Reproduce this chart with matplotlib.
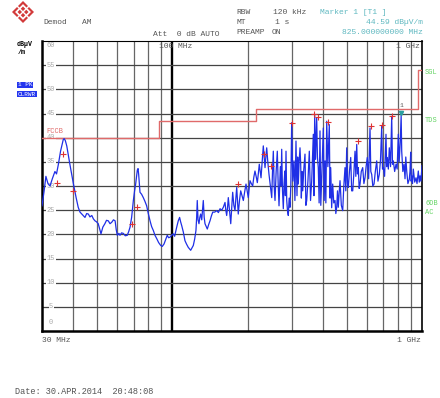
import matplotlib
matplotlib.use('Agg')
import matplotlib.pyplot as plt
from matplotlib.patches import Polygon
from matplotlib.ticker import NullLocator

W, H = 440, 398
MONO = 'Liberation Mono'

# measured trace, MHz / dBuV/m
trace_freq = [
    30.0, 30.6, 31.1, 31.7, 32.3, 33.0, 33.8, 34.3, 34.9, 35.6, 36.5, 36.8, 37.2, 37.7,
    38.2, 38.8, 40.0, 41.1, 41.9, 42.6, 43.3, 44.0, 44.6, 45.3, 46.0, 46.7, 47.5, 48.2,
    48.9, 49.6, 50.4, 51.0, 51.7, 52.6, 53.6, 54.4, 55.3, 56.2, 57.1, 58.0, 58.9, 59.5,
    60.1, 61.0, 61.6, 62.5, 63.5, 64.7, 65.9, 66.8, 67.6, 68.6, 69.7, 70.5, 71.2, 72.3,
    72.8, 73.2, 74.1, 75.2, 76.4, 77.6, 78.8, 80.0, 81.3, 82.5, 83.8, 85.1, 86.5, 88.0,
    89.7, 91.0, 92.5, 94.0, 95.3, 96.5, 97.7, 99.3, 100.8, 102.0, 103.2, 104.0, 105.5,
    106.8, 107.8, 108.9, 110.5, 112.2, 113.8, 115.7, 117.0, 118.3, 119.7, 121.2, 122.7,
    124.2, 125.0, 125.7, 126.6, 127.7, 128.7, 129.7, 131.0, 132.1, 132.9, 134.0, 135.0,
    136.5, 137.9, 139.6, 141.4, 143.2, 145.0, 147.7, 150.4, 152.8, 155.1, 157.5, 159.9,
    162.4, 163.6, 164.9, 166.2, 167.4, 169.2, 171.2, 172.7, 174.3, 176.2, 178.1, 179.5,
    180.9, 182.2, 183.5, 185.6, 187.7, 190.0, 192.3, 194.7, 197.1, 199.2, 201.3, 202.9,
    204.5, 207.0, 209.6, 211.8, 214.1, 216.4, 218.8, 220.8, 222.8, 224.6, 226.4, 228.8,
    231.2, 233.0, 234.9, 236.7, 238.6, 241.0, 243.7, 246.8, 249.9, 251.7, 253.6, 255.6,
    257.6, 260.3, 263.1, 265.2, 267.3, 269.0, 270.6, 272.3, 274.0, 276.0, 278.1, 280.0,
    282.0, 283.5, 285.1, 287.0, 289.0, 291.2, 293.5, 295.8, 298.0, 300.4, 303.5, 306.9,
    309.5, 312.6, 315.5, 317.5, 319.3, 321.8, 324.4, 326.5, 328.5, 330.5, 332.6, 336.0,
    339.7, 342.5, 345.1, 349.0, 353.5, 357.5, 361.4, 364.0, 366.8, 369.0, 371.5, 374.5,
    378.4, 381.0, 384.0, 387.0, 390.1, 393.0, 396.3, 399.0, 402.3, 405.5, 408.6, 411.8,
    415.1, 419.5, 425.1, 428.0, 430.6, 434.5, 438.6, 443.0, 448.1, 451.5, 455.2, 458.5,
    461.9, 465.5, 469.3, 475.0, 481.1, 486.0, 491.4, 495.0, 499.2, 503.0, 506.7, 512.0,
    518.0, 522.5, 527.7, 533.0, 539.0, 543.0, 547.5, 551.5, 555.6, 560.0, 564.5, 571.0,
    578.6, 585.0, 591.1, 597.0, 603.7, 611.0, 618.9, 623.5, 628.7, 635.0, 642.3, 650.0,
    658.4, 666.0, 674.4, 682.0, 689.5, 694.5, 699.7, 708.0, 717.3, 721.5, 725.9, 733.0,
    739.6, 748.0, 756.1, 761.5, 767.4, 777.0, 786.7, 795.0, 803.5, 810.0, 818.0, 825.0,
    829.3, 838.0, 847.1, 855.0, 861.0, 868.4, 878.0, 889.4, 895.0, 901.0, 905.0, 909.3,
    916.0, 923.0, 935.0, 946.2, 955.0, 966.5, 975.0, 982.0, 990.0, 1000.0,
]
trace_level = [
    25.9, 29.0, 32.0, 30.5, 30.0, 31.5, 33.0, 32.5, 34.5, 37.2, 39.6, 39.8, 39.4, 38.3,
    36.5, 34.5, 30.7, 27.6, 25.6, 24.6, 24.2, 23.8, 23.5, 24.3, 24.2, 23.6, 23.9, 23.2,
    22.8, 22.6, 22.2, 21.2, 20.1, 21.5, 22.2, 22.9, 22.8, 22.2, 22.5, 23.0, 22.8, 21.0,
    19.8, 20.2, 19.8, 20.3, 20.2, 19.7, 19.8, 20.6, 21.5, 23.5, 27.0, 29.0, 30.4, 33.3,
    33.6, 32.4, 28.7, 28.3, 27.6, 26.8, 25.9, 24.3, 22.8, 21.6, 20.8, 19.8, 19.1, 18.3,
    17.7, 17.5, 18.0, 19.0, 19.8, 19.3, 19.4, 19.8, 20.1, 19.6, 20.8, 21.5, 22.8,
    23.5, 22.6, 21.8, 20.5, 18.7, 18.0, 17.3, 17.0, 16.7, 17.2, 17.7, 19.0,
    20.8, 23.5, 27.0, 23.0, 22.2, 23.5, 24.2, 23.0, 25.5, 27.0, 23.5, 22.2,
    21.6, 21.1, 22.0, 22.8, 23.8, 24.6, 24.6, 24.9, 24.5, 25.3, 25.0, 25.6,
    26.6, 25.0, 23.9, 25.5, 27.6, 25.0, 22.2, 25.5, 28.7, 26.0, 24.9, 27.5,
    29.7, 27.0, 24.2, 27.0, 29.0, 28.0, 27.0, 28.8, 30.4, 29.0, 27.6, 29.5,
    31.1, 30.5, 30.0, 31.8, 33.1, 32.0, 30.7, 32.5, 34.5, 33.0, 31.7, 35.0,
    38.3, 36.0, 33.8, 36.0, 37.9, 35.0, 32.4, 30.0, 27.6, 33.0, 37.2, 30.0,
    27.0, 33.0, 37.2, 30.5, 25.9, 30.0, 34.0, 30.0, 37.6, 29.0, 25.3, 30.5,
    33.1, 28.0, 37.2, 27.0, 24.9, 23.9, 27.5, 25.6, 30.0, 43.1, 31.0, 35.2,
    27.0, 39.3, 28.0, 36.0, 30.4, 35.0, 37.9, 34.5, 27.5, 33.0, 29.0, 33.5,
    36.6, 26.0, 27.0, 31.0, 37.2, 27.0, 31.1, 36.0, 40.7, 28.0, 44.8, 35.5,
    44.1, 36.0, 33.8, 26.5, 41.4, 26.0, 31.7, 36.0, 42.0, 27.0, 35.2, 26.5,
    43.4, 34.0, 42.7, 27.5, 33.8, 25.5, 30.4, 26.5, 27.0, 24.3, 25.6, 29.0,
    25.6, 28.5, 31.1, 26.0, 24.9, 30.0, 33.8, 29.0, 37.9, 30.5, 29.7, 33.0,
    35.9, 29.0, 29.0, 32.5, 37.2, 32.0, 38.6, 32.5, 33.8, 29.5, 30.4, 33.0,
    33.8, 30.5, 31.7, 34.0, 35.9, 31.5, 42.0, 33.0, 32.4, 30.0, 30.4, 33.0,
    35.2, 31.0, 32.4, 35.5, 42.4, 33.5, 33.8, 32.0, 40.7, 34.0, 35.9, 33.5,
    37.9, 34.0, 44.4, 34.5, 35.2, 33.0, 34.5, 33.5, 40.7, 35.0, 39.0, 44.59,
    37.2, 33.0, 34.5, 31.5, 36.0, 33.1, 30.5, 31.4, 33.0, 37.0, 31.0, 32.1,
    30.5, 33.5, 30.8, 31.7, 30.5, 33.1, 30.8, 32.1, 31.0, 34.2,
]

# FCC class B limit (step edges in MHz)
limit_freq = [30, 88, 216, 960, 1000]
limit_level = [40, 43.5, 46, 54]

# quasi-peak check points
peak_freq = [34.4, 36.3, 40.0, 68.6, 71.9, 183.5, 233.4, 247.6, 300.4, 370.2,
             382.0, 418.9, 555.6, 622.8, 693.3, 756.1]
peak_level = [30.7, 36.6, 28.9, 22.2, 25.6, 30.4, 36.7, 34.2, 43.1, 44.8,
              44.2, 43.3, 39.3, 42.5, 42.7, 44.4]

marker_freq = 825.0
marker_level = 44.59

grid_freq = [40, 50, 60, 70, 80, 90, 100, 200, 300, 400, 500, 600, 700, 800, 900]
level_ticks = [0, 5, 10, 15, 20, 25, 30, 35, 40, 45, 50, 55, 60]


def ftext(x, y, s, **kw):
    kw.setdefault('family', MONO)
    kw.setdefault('fontsize', 5.8)
    kw.setdefault('color', '#555555')
    kw.setdefault('va', 'center')
    fig.text(x / W, 1 - y / H, s, **kw)


fig = plt.figure(figsize=(W / 100, H / 100), dpi=100)
ax = fig.add_axes([42 / W, 1 - 331 / H, 380 / W, 290 / H])
ax.set_xscale('log')
ax.set_xlim(30, 1000)
ax.set_ylim(0, 60)
ax.set_xticks([])
ax.set_yticks([])
ax.xaxis.set_minor_locator(NullLocator())

for f in grid_freq:
    if f == 100:
        ax.axvline(f, color='black', lw=1.7, zorder=1)
    else:
        ax.axvline(f, color='#666666', lw=0.9, zorder=1)
for lv in level_ticks[1:-1]:
    ax.axhline(lv, color='#444444', lw=0.9, zorder=1)

for lv in level_ticks:
    y = lv
    if lv == 60:
        y = 59.0
    elif lv == 0:
        y = 1.8
    ax.text(0.024, y, str(lv), transform=ax.get_yaxis_transform(), ha='center',
            va='center', family=MONO, fontsize=5, color='#aaaaaa',
            bbox=dict(facecolor='white', edgecolor='none', pad=0.3), zorder=2)

for side, lw in [('left', 1.8), ('bottom', 1.8), ('top', 0.8), ('right', 1.2)]:
    ax.spines[side].set_linewidth(lw)
    ax.spines[side].set_color('black')

# limit line
ax.step(limit_freq, limit_level + [limit_level[-1]], where='post',
        color='#e06a6a', lw=1.0, zorder=3)
ax.text(31.1, 41.3, 'FCCB', family=MONO, fontsize=5, color='#e06a6a',
        va='center', zorder=4)

# trace
ax.plot(trace_freq, trace_level, color='#1f2fe6', lw=0.9, zorder=4)

ax.plot(peak_freq, peak_level, '+', color='#dd3333', ms=4.5, mew=0.8, zorder=5)
ax.plot([marker_freq], [marker_level + 0.6], 'v', color='#2aa0a0', ms=3, zorder=6)
ax.text(marker_freq, marker_level + 2.0, '1', family=MONO, fontsize=4.5,
        color='#555555', ha='center', va='center', zorder=6)

ax.text(88, 58.8, '100 MHz', family=MONO, fontsize=5.8, color='#555555',
        va='center', zorder=4)
ax.text(880, 58.8, '1 GHz', family=MONO, fontsize=5.8, color='#555555',
        va='center', ha='center', zorder=4)

# header
logo = fig.add_axes([12 / W, 1 - 23 / H, 22 / W, 22 / H])
logo.set_xlim(-1, 1)
logo.set_ylim(-1, 1)
logo.axis('off')
logo.add_patch(Polygon([[0, 1], [1, 0], [0, -1], [-1, 0]], closed=True,
                       facecolor='#d23a3a', edgecolor='none'))
logo.add_patch(Polygon([[0, 0.72], [0.72, 0], [0, -0.72], [-0.72, 0]], closed=True,
                       facecolor='white', edgecolor='none'))
logo.add_patch(Polygon([[0, 0.5], [0.5, 0], [0, -0.5], [-0.5, 0]], closed=True,
                       facecolor='#d23a3a', edgecolor='none'))
logo.plot([-0.5, 0.5], [-0.5, 0.5], color='white', lw=1.0)
logo.plot([-0.5, 0.5], [0.5, -0.5], color='white', lw=1.0)

ftext(43, 23, 'Demod')
ftext(82, 23, 'AM')
ftext(153, 34, 'Att  0 dB AUTO')
ftext(236, 12, 'RBW')
ftext(273, 12, '120 kHz')
ftext(236, 23, 'MT')
ftext(275, 23, '1 s')
ftext(236, 33, 'PREAMP')
ftext(272, 33, 'ON')
ftext(320, 13, 'Marker 1 [T1 ]', color='#5fb8c0')
ftext(423, 23, '44.59 dB\u00b5V/m', color='#5fb8c0', ha='right')
ftext(423, 33, '825.000000000 MHz', color='#5fb8c0', ha='right')

ftext(17, 45, 'dB\u00b5V', fontsize=4.8, color='black', weight='bold')
ftext(18, 53, '/m', fontsize=4.8, color='black', weight='bold')
ftext(18, 85, '1 PK', fontsize=4.3, color='white',
      bbox=dict(facecolor='#2436ee', edgecolor='none', pad=0.6))
ftext(18, 94, 'CLRWR', fontsize=4.3, color='white',
      bbox=dict(facecolor='#2436ee', edgecolor='none', pad=0.6))

for y, s in [(73, 'SGL'), (121, 'TDS'), (203, '6DB'), (212, 'AC')]:
    ftext(425, y, s, fontsize=5, color='#66d466')

ftext(42, 341, '30 MHz')
ftext(421, 341, '1 GHz', ha='right')
ftext(15, 391, 'Date: 30.APR.2014  20:48:08', fontsize=6.2)

fig.savefig('out.png', dpi=100)
